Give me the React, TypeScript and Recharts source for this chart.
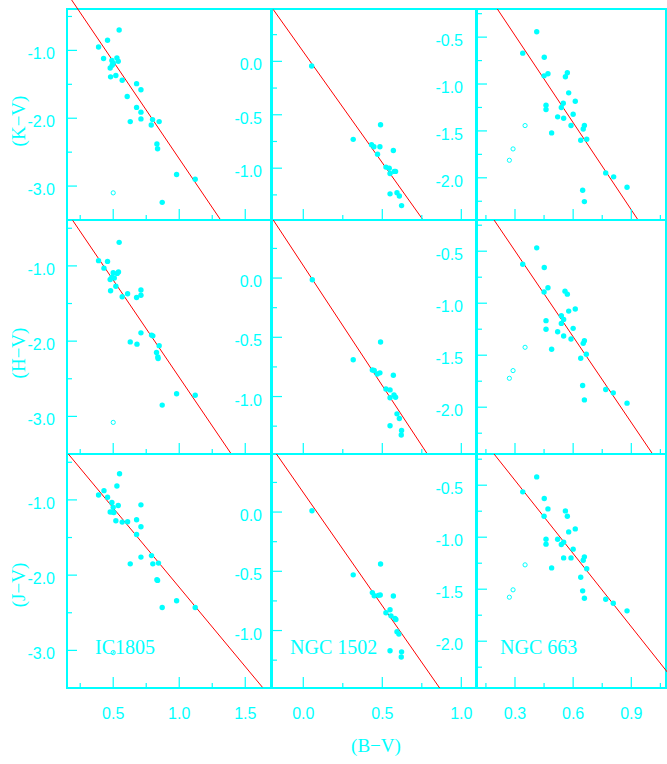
import { ReferenceArea, ReferenceLine, Scatter, ScatterChart, XAxis, YAxis } from "recharts"

const W = 667
const H = 764
const CYAN = "#00ffff"
const RED = "#ff0000"
const AXIS_W = 40
const AXIS_H = 40

// [B-V, colour] pairs
const ic1805K = [[0.545,-0.70],[0.457,-0.85],[0.389,-0.95],[0.427,-1.12],[0.49,-1.15],[0.50,-1.19],[0.528,-1.11],[0.538,-1.16],[0.477,-1.26],[0.492,-1.22],[0.48,-1.39],[0.52,-1.37],[0.568,-1.44],[0.677,-1.49],[0.71,-1.58],[0.606,-1.68],[0.677,-1.84],[0.71,-1.91],[0.71,-2.01],[0.629,-2.05],[0.798,-2.02],[0.788,-2.10],[0.848,-2.05],[0.831,-2.38],[0.836,-2.45],[0.98,-2.83],[1.121,-2.90],[0.871,-3.24]]
const ic1805KOpen = [[0.5,-3.10]]
const ic1805H = [[0.545,-0.687],[0.389,-0.93],[0.457,-0.94],[0.43,-1.03],[0.50,-1.09],[0.53,-1.10],[0.54,-1.08],[0.49,-1.15],[0.477,-1.18],[0.508,-1.16],[0.52,-1.27],[0.48,-1.33],[0.568,-1.41],[0.609,-1.37],[0.677,-1.42],[0.71,-1.39],[0.71,-1.32],[0.71,-1.89],[0.79,-1.92],[0.80,-1.93],[0.629,-2.01],[0.68,-2.04],[0.848,-2.06],[0.828,-2.15],[0.838,-2.21],[0.84,-2.23],[0.98,-2.70],[1.121,-2.72],[0.871,-2.85]]
const ic1805HOpen = [[0.5,-3.08]]
const ic1805J = [[0.548,-0.652],[0.528,-0.815],[0.43,-0.877],[0.389,-0.934],[0.457,-0.965],[0.49,-1.035],[0.538,-1.075],[0.5,-1.10],[0.477,-1.16],[0.495,-1.16],[0.505,-1.167],[0.71,-1.066],[0.52,-1.278],[0.568,-1.295],[0.609,-1.291],[0.677,-1.264],[0.71,-1.357],[0.677,-1.46],[0.71,-1.76],[0.79,-1.74],[0.80,-1.85],[0.843,-1.84],[0.629,-1.85],[0.831,-2.06],[0.836,-2.07],[0.98,-2.34],[1.121,-2.43],[0.871,-2.43]]
const ic1805JOpen = [[0.5,-3.03]]

const ngc1502K = [[0.053,-0.044],[0.316,-0.73],[0.489,-0.594],[0.432,-0.78],[0.447,-0.80],[0.485,-0.80],[0.47,-0.87],[0.57,-0.834],[0.523,-0.99],[0.544,-1.0],[0.549,-1.05],[0.576,-1.03],[0.584,-1.03],[0.549,-1.24],[0.593,-1.23],[0.608,-1.26],[0.622,-1.35]]
const ngc1502H = [[0.057,-0.014],[0.316,-0.69],[0.489,-0.54],[0.437,-0.776],[0.449,-0.78],[0.485,-0.80],[0.468,-0.81],[0.57,-0.82],[0.523,-0.936],[0.549,-0.944],[0.549,-1.01],[0.574,-0.986],[0.584,-1.006],[0.593,-1.146],[0.608,-1.185],[0.549,-1.246],[0.622,-1.286],[0.62,-1.325]]
const ngc1502J = [[0.055,0.011],[0.316,-0.53],[0.489,-0.438],[0.437,-0.68],[0.449,-0.706],[0.475,-0.703],[0.487,-0.70],[0.57,-0.709],[0.549,-0.825],[0.523,-0.85],[0.555,-0.876],[0.58,-0.898],[0.586,-0.907],[0.593,-1.01],[0.605,-1.03],[0.549,-1.17],[0.622,-1.18],[0.62,-1.223]]

const ngc663K = [[0.412,-0.443],[0.34,-0.671],[0.451,-0.714],[0.45,-0.913],[0.47,-0.891],[0.56,-0.923],[0.57,-0.88],[0.577,-1.094],[0.611,-1.183],[0.46,-1.226],[0.46,-1.272],[0.539,-1.251],[0.549,-1.205],[0.52,-1.35],[0.551,-1.365],[0.60,-1.322],[0.589,-1.443],[0.658,-1.443],[0.652,-1.479],[0.489,-1.521],[0.639,-1.60],[0.67,-1.589],[0.768,-1.948],[0.809,-1.99],[0.878,-2.10],[0.649,-2.133],[0.658,-2.254]]
const ngc663KOpen = [[0.352,-1.443],[0.29,-1.692],[0.271,-1.813]]
const ngc663H = [[0.412,-0.468],[0.34,-0.625],[0.451,-0.657],[0.45,-0.893],[0.47,-0.852],[0.558,-0.884],[0.57,-0.913],[0.577,-1.076],[0.611,-1.056],[0.539,-1.12],[0.551,-1.156],[0.539,-1.194],[0.46,-1.168],[0.46,-1.25],[0.52,-1.274],[0.551,-1.315],[0.60,-1.242],[0.589,-1.344],[0.658,-1.36],[0.652,-1.386],[0.489,-1.443],[0.668,-1.491],[0.639,-1.53],[0.649,-1.792],[0.768,-1.83],[0.807,-1.862],[0.658,-1.93],[0.878,-1.961]]
const ngc663HOpen = [[0.352,-1.424],[0.29,-1.648],[0.271,-1.722]]
const ngc663J = [[0.412,-0.42],[0.34,-0.564],[0.451,-0.628],[0.47,-0.728],[0.45,-0.798],[0.56,-0.747],[0.57,-0.798],[0.577,-0.949],[0.611,-0.92],[0.46,-1.019],[0.46,-1.067],[0.52,-1.019],[0.539,-1.07],[0.551,-1.048],[0.60,-1.115],[0.551,-1.199],[0.589,-1.199],[0.658,-1.189],[0.652,-1.221],[0.67,-1.304],[0.489,-1.295],[0.639,-1.385],[0.649,-1.516],[0.658,-1.587],[0.768,-1.596],[0.807,-1.635],[0.878,-1.708]]
const ngc663JOpen = [[0.352,-1.266],[0.29,-1.506],[0.271,-1.577]]

// reddening lines, [x1, y1, x2, y2] in data units
const ic1805Lines = [[0.12,-0.07,1.314,-3.50],[0.193,-0.395,1.392,-3.494],[0.16,-0.39,1.63,-3.49]]
const ngc1502Lines = [[-0.19,0.485,0.758,-1.485],[-0.19,0.49,0.785,-1.485],[-0.17,0.49,0.863,-1.485]]
const ngc663Lines = [[0.209,-0.2,0.935,-2.45],[0.192,-0.2,1.01,-2.45],[0.192,-0.2,1.151,-2.45]]

const clusters = ["IC1805", "NGC 1502", "NGC 663"]
const bands = ["(K\u2212V)", "(H\u2212V)", "(J\u2212V)"]
const xTitle = "(B\u2212V)"

const xDomains = [[0.15, 1.695], [-0.198, 1.093], [0.104, 1.079]]
const yDomains = [[-3.5, -0.39], [-1.485, 0.49], [-2.45, -0.2]]
const xMajor = [[0.5, 1.0, 1.5], [0.0, 0.5, 1.0], [0.3, 0.6, 0.9]]
const xMinor = [[0.25, 0.75, 1.25], [0.25, 0.75], [0.15, 0.45, 0.75, 1.05]]
const yMajor = [[-1.0, -2.0, -3.0], [0.0, -0.5, -1.0], [-0.5, -1.0, -1.5, -2.0]]
const yMinor = [[-0.5, -1.5, -2.5], [0.25, -0.25, -0.75, -1.25], [-0.25, -0.75, -1.25, -1.75, -2.25]]

const filled = [
  [ic1805K, ngc1502K, ngc663K],
  [ic1805H, ngc1502H, ngc663H],
  [ic1805J, ngc1502J, ngc663J],
]
const hollow = [
  [ic1805KOpen, [], ngc663KOpen],
  [ic1805HOpen, [], ngc663HOpen],
  [ic1805JOpen, [], ngc663JOpen],
]
const lines = [ic1805Lines, ngc1502Lines, ngc663Lines]

// pixel layout of the 3x3 grid
const colBox = [{ left: 67, right: 271 }, { left: 272, right: 476 }, { left: 477, right: 666 }]
const rowBox = [{ top: 9, bottom: 220 }, { top: 220, bottom: 454 }, { top: 454, bottom: 688 }]
const yLabelGap = [12, 10, 14]

const toPts = (arr: number[][]) => arr.map(([x, y]) => ({ x, y }))
const isIn = (list: number[], v: number) => list.some((m) => Math.abs(m - v) < 1e-6)

const Dot = (p: any) => <circle cx={p.cx} cy={p.cy} r={2.7} fill={CYAN} />
const Ring = (p: any) => <circle cx={p.cx} cy={p.cy} r={2.1} fill="none" stroke={CYAN} strokeWidth={1} />

const Panel = ({ row, col }: { row: number; col: number }) => {
  const c = colBox[col]
  const r = rowBox[row]
  const [x0, x1] = xDomains[col]
  const [y0, y1] = yDomains[col]
  const ln = lines[col][row]
  const showX = row === 2

  const xTick = (p: any) => {
    const major = isIn(xMajor[col], p.payload.value)
    return (
      <g>
        <line x1={p.x} y1={p.y} x2={p.x} y2={p.y - (major ? 11 : 5)} stroke={CYAN} strokeWidth={1.2} />
        {major && showX && (
          <text x={p.x} y={p.y + 31} textAnchor="middle" fill={CYAN} fontSize={16} fontFamily="Liberation Sans, Arial, sans-serif">
            {p.payload.value.toFixed(1)}
          </text>
        )}
      </g>
    )
  }

  const yTick = (p: any) => {
    const major = isIn(yMajor[col], p.payload.value)
    return (
      <g>
        <line x1={p.x} y1={p.y} x2={p.x + (major ? 10 : 5)} y2={p.y} stroke={CYAN} strokeWidth={1.2} />
        {major && (
          <text x={p.x - yLabelGap[col]} y={p.y + 9} textAnchor="end" fill={CYAN} fontSize={16} fontFamily="Liberation Sans, Arial, sans-serif">
            {p.payload.value.toFixed(1)}
          </text>
        )}
      </g>
    )
  }

  return (
    <div style={{ position: "absolute", left: 0, top: 0 }}>
      <ScatterChart
        width={W}
        height={H}
        margin={{ left: c.left - AXIS_W, right: W - c.right, top: r.top, bottom: H - r.bottom - AXIS_H }}
      >
        <XAxis
          type="number"
          dataKey="x"
          domain={[x0, x1]}
          allowDataOverflow
          ticks={[...xMajor[col], ...xMinor[col]].sort((a, b) => a - b)}
          interval={0}
          height={AXIS_H}
          axisLine={false}
          tickLine={false}
          tickSize={0}
          tickMargin={0}
          tick={xTick}
        />
        <YAxis
          type="number"
          dataKey="y"
          domain={[y0, y1]}
          allowDataOverflow
          ticks={[...yMajor[col], ...yMinor[col]].sort((a, b) => a - b)}
          interval={0}
          width={AXIS_W}
          axisLine={false}
          tickLine={false}
          tickSize={0}
          tickMargin={0}
          tick={yTick}
        />
        <ReferenceArea x1={x0} x2={x1} y1={y0} y2={y1} fill="none" stroke={CYAN} strokeWidth={2} ifOverflow="visible" />
        <ReferenceLine
          segment={[{ x: ln[0], y: ln[1] }, { x: ln[2], y: ln[3] }]}
          stroke={RED}
          strokeWidth={1}
          ifOverflow="visible"
        />
        <Scatter data={toPts(filled[row][col])} shape={Dot} isAnimationActive={false} />
        <Scatter data={toPts(hollow[row][col])} shape={Ring} isAnimationActive={false} />
      </ScatterChart>
    </div>
  )
}

const App = () => {
  const serif = "Liberation Serif, Times New Roman, serif"
  const bandY = [121, 353, 585]
  const nameX = [95, 290, 500]
  return (
    <div style={{ position: "absolute", left: 0, top: 0, width: W, height: H, background: "#fff", overflow: "hidden" }}>
      {[0, 1, 2].map((row) => [0, 1, 2].map((col) => <Panel key={`${row}-${col}`} row={row} col={col} />))}
      <svg width={W} height={H} style={{ position: "absolute", left: 0, top: 0, pointerEvents: "none" }}>
        {bands.map((b, i) => (
          <text key={b} x={18} y={bandY[i]} transform={`rotate(-90 18 ${bandY[i]})`} textAnchor="middle" dominantBaseline="central" fill={CYAN} fontSize={19} fontFamily={serif}>
            {b}
          </text>
        ))}
        <text x={376} y={752} textAnchor="middle" fill={CYAN} fontSize={19} fontFamily={serif}>
          {xTitle}
        </text>
        {clusters.map((name, i) => (
          <text key={name} x={nameX[i]} y={654} fill={CYAN} fontSize={20} fontFamily={serif}>
            {name}
          </text>
        ))}
      </svg>
    </div>
  )
}

export default App
